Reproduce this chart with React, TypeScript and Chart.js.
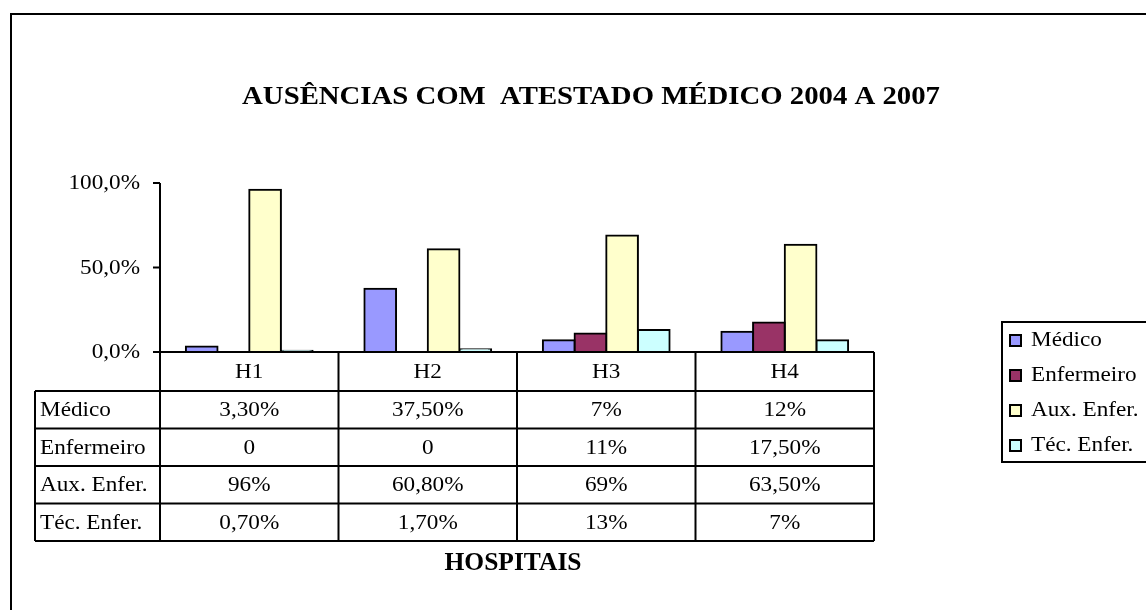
import React, { useEffect, useRef } from "react";
import { Chart, registerables } from "chart.js";

Chart.register(...registerables);

const categories = ["H1", "H2", "H3", "H4"];
const seriesNames = ["Médico", "Enfermeiro", "Aux. Enfer.", "Téc. Enfer."];
const medico = [3.3, 37.5, 7, 12];
const enfermeiro = [0, 0, 11, 17.5];
const auxEnfer = [96, 60.8, 69, 63.5];
const tecEnfer = [0.7, 1.7, 13, 7];
const tableMedico = ["3,30%", "37,50%", "7%", "12%"];
const tableEnfermeiro = ["0", "0", "11%", "17,50%"];
const tableAux = ["96%", "60,80%", "69%", "63,50%"];
const tableTec = ["0,70%", "1,70%", "13%", "7%"];
const yTicks = [0, 50, 100];
const yTickLabels = ["0,0%", "50,0%", "100,0%"];
const seriesColors = ["#9999FF", "#993366", "#FFFFCC", "#CCFFFF"];
const titleText = "AUSÊNCIAS COM  ATESTADO MÉDICO 2004 A 2007";
const xTitleText = "HOSPITAIS";

const SERIF = "'Liberation Serif', 'Times New Roman', serif";
const SX = 1.16;

function txt(ctx: CanvasRenderingContext2D, s: string, x: number, y: number, font: string, align: CanvasTextAlign, sx: number) {
  ctx.save();
  ctx.font = font;
  ctx.fillStyle = "#000";
  ctx.textBaseline = "middle";
  ctx.textAlign = align;
  ctx.translate(x, y);
  ctx.scale(sx, 1);
  ctx.fillText(s, 0, 0);
  ctx.restore();
}

function line(ctx: CanvasRenderingContext2D, x1: number, y1: number, x2: number, y2: number, w = 2) {
  ctx.save();
  ctx.strokeStyle = "#000";
  ctx.lineWidth = w;
  ctx.beginPath();
  ctx.moveTo(x1, y1);
  ctx.lineTo(x2, y2);
  ctx.stroke();
  ctx.restore();
}

const decorPlugin = {
  id: "decor",
  afterDraw(chart: any) {
    const ctx: CanvasRenderingContext2D = chart.ctx;
    const area = chart.chartArea;
    const xs = chart.scales.x;
    const ys = chart.scales.y;
    const regFont = `20px ${SERIF}`;

    // outer frame
    ctx.save();
    ctx.strokeStyle = "#000";
    ctx.lineWidth = 2;
    ctx.strokeRect(11, 14, 1170, 640);
    ctx.restore();

    // title
    txt(ctx, titleText, 591, 98, `bold 25px ${SERIF}`, "center", 1.15);

    // y axis + ticks
    line(ctx, area.left, ys.getPixelForValue(yTicks[yTicks.length - 1]), area.left, area.bottom);
    yTicks.forEach((v, i) => {
      const y = ys.getPixelForValue(v);
      line(ctx, area.left - 7, y, area.left, y);
      txt(ctx, yTickLabels[i], 140, y + 1, regFont, "right", SX);
    });
    // x axis
    line(ctx, area.left - 7, area.bottom, area.right, area.bottom);

    // data table
    const n = categories.length;
    const cw = (area.right - area.left) / n;
    const headerH = 39;
    const rowH = 37.5;
    const tableTop = area.bottom;
    const rowsTop = tableTop + headerH;
    const rows = [tableMedico, tableEnfermeiro, tableAux, tableTec];
    const tableBottom = rowsTop + rows.length * rowH;
    const labelLeft = 35;
    for (let i = 0; i <= n; i++) {
      const x = area.left + i * cw;
      line(ctx, x, tableTop, x, tableBottom);
    }
    line(ctx, labelLeft, rowsTop, labelLeft, tableBottom);
    for (let r = 0; r <= rows.length; r++) {
      const y = rowsTop + r * rowH;
      line(ctx, labelLeft, y, area.right, y);
    }
    categories.forEach((c, i) => {
      const cx = xs.getPixelForValue(i);
      txt(ctx, c, cx, tableTop + headerH / 2 + 1, regFont, "center", SX);
    });
    rows.forEach((row, r) => {
      const cy = rowsTop + r * rowH + rowH / 2 + 1;
      txt(ctx, seriesNames[r], labelLeft + 5, cy, regFont, "left", SX);
      row.forEach((s, i) => {
        txt(ctx, s, xs.getPixelForValue(i), cy, regFont, "center", SX);
      });
    });

    // axis title
    txt(ctx, xTitleText, 513, 564, `bold 25px ${SERIF}`, "center", 1.02);

    // legend
    ctx.save();
    ctx.strokeStyle = "#000";
    ctx.lineWidth = 2;
    ctx.strokeRect(1002, 322, 200, 140);
    ctx.restore();
    seriesNames.forEach((name, i) => {
      const cy = 341 + i * 35;
      ctx.save();
      ctx.fillStyle = seriesColors[i];
      ctx.fillRect(1010, cy - 6, 11, 11);
      ctx.strokeStyle = "#000";
      ctx.lineWidth = 2;
      ctx.strokeRect(1010, cy - 6, 11, 11);
      ctx.restore();
      txt(ctx, name, 1031, cy, regFont, "left", SX);
    });
  },
};

export default function App() {
  const ref = useRef<HTMLCanvasElement | null>(null);
  useEffect(() => {
    document.body.style.margin = "0";
    const canvas = ref.current!;
    const seriesData = [medico, enfermeiro, auxEnfer, tecEnfer];
    const chart = new Chart(canvas, {
      type: "bar",
      data: {
        labels: categories,
        datasets: seriesNames.map((name, i) => ({
          label: name,
          data: seriesData[i],
          backgroundColor: seriesColors[i],
          borderColor: "#000",
          borderWidth: 2,
          borderSkipped: false,
          inflateAmount: 1,
          categoryPercentage: 0.71,
          barPercentage: 1,
        })),
      },
      options: {
        responsive: false,
        animation: false,
        devicePixelRatio: 1,
        layout: { padding: { left: 160, right: 272, top: 183, bottom: 258 } },
        plugins: { legend: { display: false }, title: { display: false }, tooltip: { enabled: false } },
        scales: {
          x: { display: false },
          y: { display: false, min: 0, max: 100 },
        },
      },
      plugins: [decorPlugin],
    });
    return () => chart.destroy();
  }, []);
  return (
    <div style={{ width: 1146, height: 610, background: "#fff" }}>
      <canvas ref={ref} width={1146} height={610} style={{ display: "block" }} />
    </div>
  );
}
